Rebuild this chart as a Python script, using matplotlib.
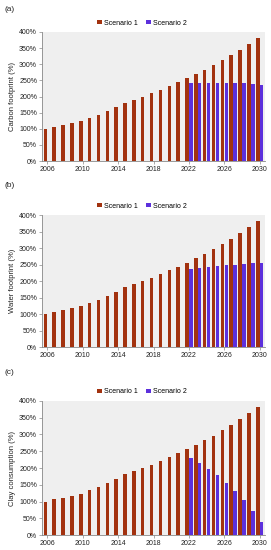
import numpy as np
import matplotlib
matplotlib.use('Agg')
import matplotlib.pyplot as plt
from matplotlib.ticker import FuncFormatter

plt.rcParams['font.family'] = ['Liberation Sans', 'DejaVu Sans']

years = list(range(2006, 2031))
scenario1 = [100, 107, 112, 118, 124, 135, 144, 156, 167, 181, 190, 200, 210,
             221, 232, 244, 256, 270, 283, 297, 313, 327, 345, 363, 381]
# Scenario 2 only from 2022 on
s2_years = list(range(2022, 2031))
carbon_s2 = [242, 243, 243, 243, 243, 242, 241, 240, 236]
water_s2 = [236, 240, 243, 246, 248, 250, 252, 254, 256]
clay_s2 = [231, 216, 197, 178, 156, 131, 104, 73, 38]

panels = [
    ('(a)', 'Carbon footprint (%)', carbon_s2),
    ('(b)', 'Water footprint (%)', water_s2),
    ('(c)', 'Clay consumption (%)', clay_s2),
]
# axes rectangles (left, bottom, width, height) and y of panel tag
rects = [
    [0.155, 0.707, 0.823, 0.235],
    [0.155, 0.369, 0.823, 0.240],
    [0.155, 0.027, 0.823, 0.244],
]
tag_y = [0.982, 0.662, 0.322]

c1 = '#a2320f'
c2 = '#5c30dc'

fig = plt.figure(figsize=(2.71, 5.5), dpi=100)
x = np.arange(len(years))
w = 0.4

for (tag, ylab, s2), r, ty in zip(panels, rects, tag_y):
    ax = fig.add_axes(r)
    ax.set_facecolor('#efefef')
    ax.bar(x - w / 2 - 0.02, scenario1, width=w, color=c1, label='Scenario 1')
    x2 = [years.index(y) for y in s2_years]
    ax.bar(np.array(x2) + w / 2 + 0.02, s2, width=w, color=c2, label='Scenario 2')
    ax.set_ylim(0, 400)
    ax.set_yticks(range(0, 401, 50))
    ax.yaxis.set_major_formatter(FuncFormatter(lambda v, p: f'{int(v)}%'))
    ax.set_xlim(-0.6, len(years) - 0.4)
    ax.set_xticks(x[::4])
    ax.set_xticklabels([str(y) for y in years[::4]])
    ax.tick_params(labelsize=5, length=2, width=0.5, color='#888888', pad=1.5,
                   labelcolor='#222222')
    for s in ['top', 'right']:
        ax.spines[s].set_visible(False)
    for s in ['left', 'bottom']:
        ax.spines[s].set_color('#888888')
        ax.spines[s].set_linewidth(0.6)
    ax.set_ylabel(ylab, fontsize=5.5, labelpad=2, color='#222222')
    ax.legend(loc='lower center', bbox_to_anchor=(0.45, 1.02), ncol=2, frameon=False,
              fontsize=5, handlelength=0.6, handleheight=0.6, handletextpad=0.4,
              columnspacing=1.2, borderaxespad=0)
    fig.text(0.018, ty, tag, fontsize=6, va='center', color='#222222')

fig.savefig('out.png', dpi=100)
